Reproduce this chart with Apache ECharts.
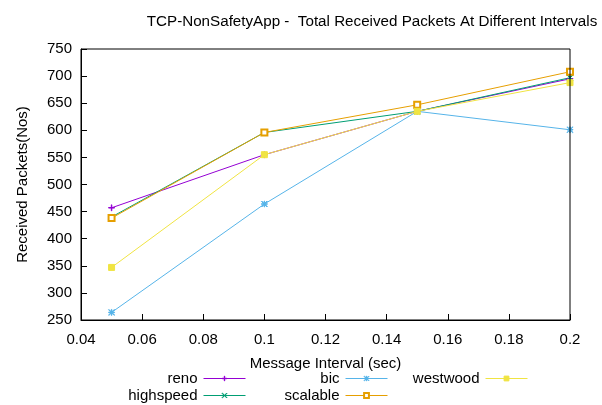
<!DOCTYPE html>
<html><head><meta charset="utf-8">
<script src="https://cdn.jsdelivr.net/npm/echarts@6/dist/echarts.min.js"></script>
<style>html,body{margin:0;padding:0;background:#fff}#c{width:602px;height:405px}</style>
</head><body><div id="c"></div>
<script>
const intervals = [0.05, 0.1, 0.15, 0.2];
const reno = [457, 555, 635, 695];
const highspeed = [440, 596, 635, 697];
const bic = [264, 464, 635, 601];
const scalable = [438, 596, 647, 708];
const westwood = [347, 555, 635, 688];
const seriesNames = ['reno', 'highspeed', 'bic', 'scalable', 'westwood'];
const seriesValues = [reno, highspeed, bic, scalable, westwood];
const colors = ['#9400d3', '#009e73', '#56b4e9', '#e69f00', '#f0e442'];
const symbols = [
  'path://M0,4.6H10V5.4H0Z M4.6,0H5.4V10H4.6Z',
  'path://M0.6,0L5,4.4L9.4,0L10,0.6L5.6,5L10,9.4L9.4,10L5,5.6L0.6,10L0,9.4L4.4,5L0,0.6Z',
  'path://M0,4.6H10V5.4H0Z M4.6,0H5.4V10H4.6Z M0.6,0L5,4.4L9.4,0L10,0.6L5.6,5L10,9.4L9.4,10L5,5.6L0.6,10L0,9.4L4.4,5L0,0.6Z',
  'emptyRect',
  'rect'
];
const font = 'Liberation Sans, Arial, sans-serif';
const chart = echarts.init(document.getElementById('c'));
const legendPos = [
  {right: 356, top: 371}, {right: 356, top: 388},
  {right: 214, top: 371}, {right: 214, top: 388},
  {right: 74, top: 371}
];
const series = seriesNames.map((n, i) => ({
  name: n, type: 'line',
  data: intervals.map((x, j) => [x, seriesValues[i][j]]),
  symbol: symbols[i], symbolSize: 6,
  showAllSymbol: true,
  itemStyle: {color: colors[i], borderColor: colors[i], borderWidth: 1},
  lineStyle: {color: colors[i], width: 1},
  animation: false
}));
chart.setOption({
  animation: false,
  title: {
    text: 'TCP-NonSafetyApp -  Total Received Packets At Different Intervals',
    left: 367, top: 9, textAlign: 'center',
    textStyle: {fontFamily: font, fontSize: 15.2, fontWeight: 'normal', color: '#000'}
  },
  legend: seriesNames.map((n, i) => ({
    data: [n], align: 'right', padding: 0,
    right: legendPos[i].right, top: legendPos[i].top,
    itemWidth: 42, itemHeight: 6, itemGap: 0,
    itemStyle: {borderWidth: 1},
    lineStyle: {width: 1},
    textStyle: {fontFamily: font, fontSize: 15, color: '#000', padding: [0, 1, 0, 0]}
  })),
  grid: {left: 81, right: 32, top: 49, bottom: 85},
  xAxis: {
    type: 'value', min: 0.04, max: 0.2, interval: 0.02,
    name: 'Message Interval (sec)', nameLocation: 'middle', nameGap: 36,
    nameTextStyle: {fontFamily: font, fontSize: 15, color: '#000'},
    axisLine: {show: true, lineStyle: {color: '#000', width: 1}},
    axisTick: {inside: true, length: 6, lineStyle: {color: '#000'}},
    axisLabel: {fontFamily: font, fontSize: 15, color: '#000', margin: 12,
      formatter: v => String(parseFloat(v.toFixed(2)))},
    splitLine: {show: false}
  },
  yAxis: {
    type: 'value', min: 250, max: 750, interval: 50,
    name: 'Received Packets(Nos)', nameLocation: 'middle', nameGap: 51, nameRotate: 90,
    nameTextStyle: {fontFamily: font, fontSize: 15, color: '#000'},
    axisLine: {show: true, lineStyle: {color: '#000', width: 1}},
    axisTick: {inside: true, length: 6, lineStyle: {color: '#000'}},
    axisLabel: {fontFamily: font, fontSize: 15, color: '#000', margin: 9},
    splitLine: {show: false}
  },
  graphic: [{
    type: 'rect', shape: {x: 81, y: 49, width: 489, height: 271},
    style: {fill: 'none', stroke: '#000', lineWidth: 1}, silent: true, z: 100
  }],
  series: series
});
</script></body></html>
